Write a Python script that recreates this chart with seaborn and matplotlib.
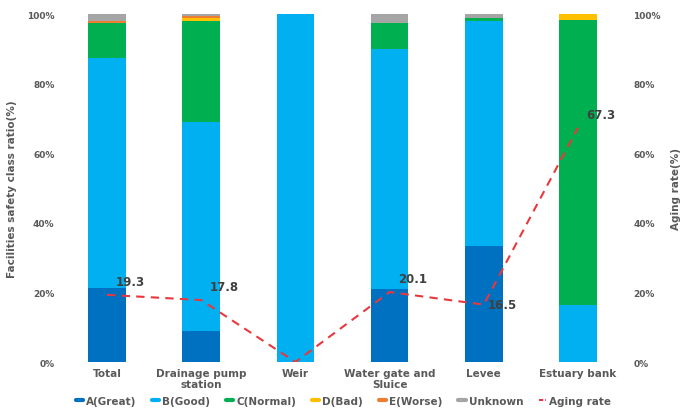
import numpy as np
import pandas as pd
import matplotlib
matplotlib.use("Agg")
import matplotlib.pyplot as plt
import seaborn as sns
from matplotlib.lines import Line2D

sns.set_theme(style="white")
plt.rcParams['font.family'] = ['DejaVu Sans']

categories = ["Total", "Drainage pump\nstation", "Weir", "Water gate and\nSluice", "Levee", "Estuary bank"]
a_great = [21.2, 9.0, 0.0, 21.0, 33.2, 0.0]
b_good = [66.2, 60.0, 100.0, 68.9, 64.8, 16.4]
c_normal = [10.1, 29.1, 0.0, 7.5, 0.8, 81.9]
d_bad = [0.0, 0.7, 0.0, 0.0, 0.0, 1.7]
e_worse = [0.5, 0.6, 0.0, 0.0, 0.0, 0.0]
unknown = [2.0, 0.6, 0.0, 2.6, 1.2, 0.0]
aging_rate = [19.3, 17.8, 0.0, 20.1, 16.5, 67.3]
aging_labels = ["19.3", "17.8", "", "20.1", "16.5", "67.3"]

series_names = ["A(Great)", "B(Good)", "C(Normal)", "D(Bad)", "E(Worse)", "Unknown"]
series_vals = [a_great, b_good, c_normal, d_bad, e_worse, unknown]
colors = ["#0070C0", "#00B0F0", "#00B050", "#FFC000", "#ED7D31", "#A5A5A5"]
txt = "#595959"

fig = plt.figure(figsize=(6.91, 4.10), dpi=100)
ax = fig.add_axes([0.0868, 0.1146, 0.8177, 0.8488])

bottom = np.zeros(len(categories))
for name, vals, col in zip(series_names, series_vals, colors):
    df = pd.DataFrame({"cat": categories, "val": vals})
    sns.barplot(data=df, x="cat", y="val", color=col, width=0.4, bottom=bottom,
                ax=ax, saturation=1, linewidth=0, order=categories)
    bottom = bottom + np.array(vals)

ax.set_ylim(0, 100)
ax.set_xlim(-0.5, len(categories) - 0.5)
ax.set_yticks(np.arange(0, 101, 20))
ax.set_yticklabels([f"{v}%" for v in range(0, 101, 20)], fontsize=6.5, fontweight="bold", color=txt)
ax.set_xticks(range(len(categories)))
ax.set_xticklabels(categories, fontsize=7.5, fontweight="bold", color=txt, linespacing=1.15)
ax.set_xlabel("")
ax.set_ylabel("Facilities safety class ratio(%)", fontsize=7.5, fontweight="bold", color=txt, labelpad=7)
ax.tick_params(axis="both", length=0, pad=4)
for s in ax.spines.values():
    s.set_visible(False)

ax2 = ax.twinx()
ldf = pd.DataFrame({"x": np.arange(len(categories)), "y": aging_rate})
sns.lineplot(data=ldf, x="x", y="y", ax=ax2, color="#E8383D", linestyle=(0, (4, 3)),
             linewidth=1.5)
ax2.set_ylim(0, 100)
ax2.set_yticks(np.arange(0, 101, 20))
ax2.set_yticklabels([f"{v}%" for v in range(0, 101, 20)], fontsize=6.5, fontweight="bold", color=txt)
ax2.set_ylabel("Aging rate(%)", fontsize=7.5, fontweight="bold", color=txt, labelpad=7)
ax2.set_xlabel("")
ax2.tick_params(axis="both", length=0, pad=6)
for s in ax2.spines.values():
    s.set_visible(False)

for i, (v, lab) in enumerate(zip(aging_rate, aging_labels)):
    if not lab:
        continue
    if i == 4:
        ax2.annotate(lab, (i, v), xytext=(3, 0), textcoords="offset points",
                     fontsize=8.5, fontweight="bold", color="#404040", ha="left", va="center")
    else:
        ax2.annotate(lab, (i, v), xytext=(6, 5), textcoords="offset points",
                     fontsize=8.5, fontweight="bold", color="#404040", ha="left", va="bottom")

handles = [Line2D([0], [0], color=c, linewidth=3) for c in colors]
handles.append(Line2D([0], [0], color="#E8383D", linewidth=1.5, linestyle=(0, (2, 1))))
labels = series_names + ["Aging rate"]
leg = fig.legend(handles, labels, loc="lower center", bbox_to_anchor=(0.497, -0.015), ncol=7,
                 frameon=False, fontsize=7.5, handlelength=0.7, handletextpad=0.3, columnspacing=1.5)
for t in leg.get_texts():
    t.set_color(txt)
    t.set_fontweight("bold")

fig.savefig("out.png", dpi=100)
